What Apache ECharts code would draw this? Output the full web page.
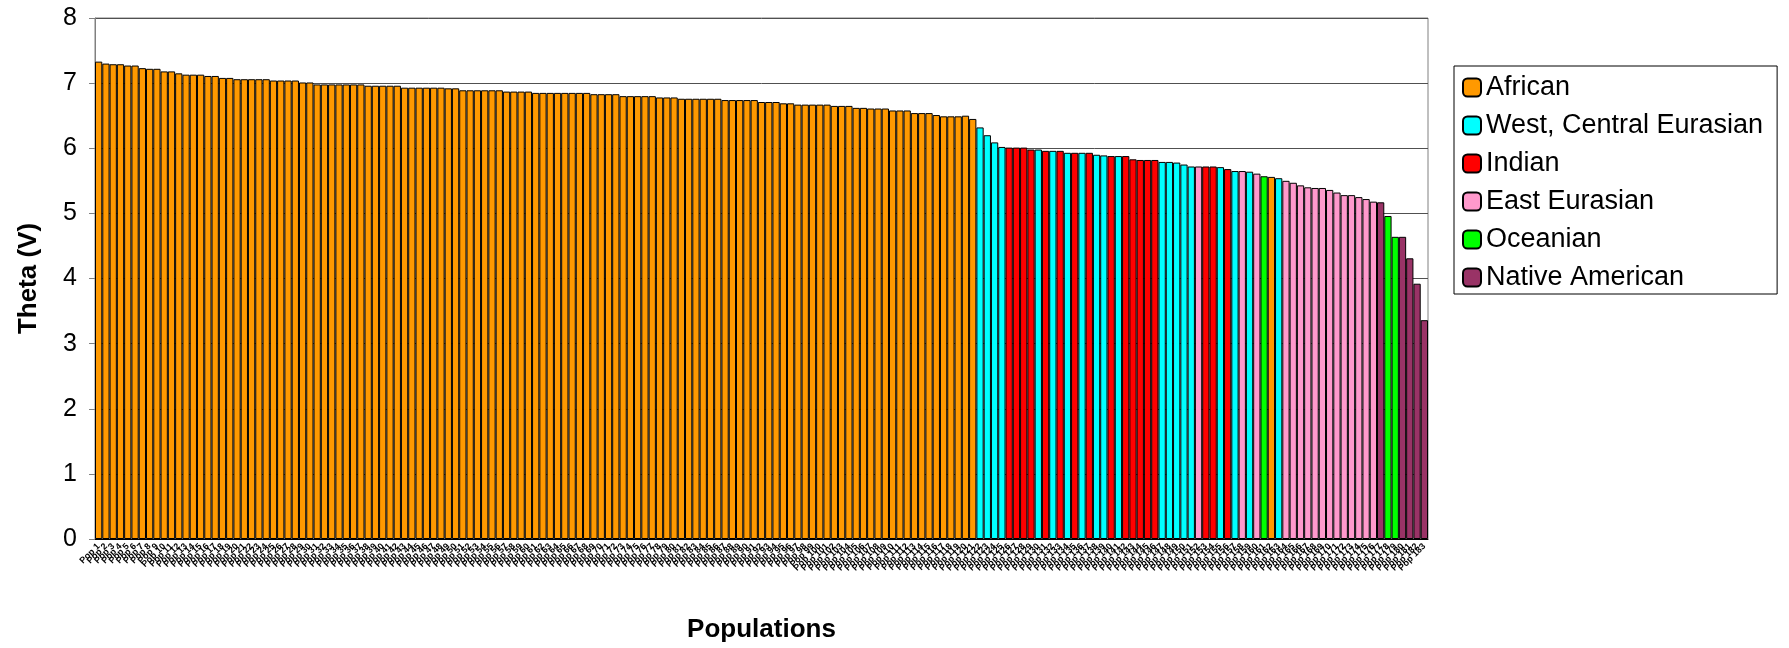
<!DOCTYPE html>
<html>
<head>
<meta charset="utf-8">
<script src="https://cdn.jsdelivr.net/npm/echarts@6/dist/echarts.min.js"></script>
<style>
  html, body { margin: 0; padding: 0; background: #fff; }
  #chart { width: 1789px; height: 648px; }
</style>
</head>
<body>
<div id="chart"></div>
<script>
// theta value per population, left to right
var theta = [
  7.33, 7.30, 7.29, 7.29, 7.27, 7.27, 7.23, 7.22, 7.22, 7.18, 7.18, 7.15, 7.13, 7.13, 7.13, 7.11, 7.11, 7.08, 7.08, 7.06,
  7.06, 7.06, 7.06, 7.06, 7.04, 7.04, 7.04, 7.04, 7.01, 7.01, 6.98, 6.98, 6.98, 6.98, 6.98, 6.98, 6.98, 6.96, 6.96, 6.96,
  6.96, 6.96, 6.93, 6.93, 6.93, 6.93, 6.93, 6.93, 6.92, 6.92, 6.89, 6.89, 6.89, 6.89, 6.89, 6.89, 6.87, 6.87, 6.87, 6.87,
  6.85, 6.85, 6.85, 6.85, 6.85, 6.85, 6.85, 6.85, 6.83, 6.83, 6.83, 6.83, 6.80, 6.80, 6.80, 6.80, 6.80, 6.78, 6.78, 6.78,
  6.76, 6.76, 6.76, 6.76, 6.76, 6.76, 6.74, 6.74, 6.74, 6.74, 6.74, 6.71, 6.71, 6.71, 6.69, 6.69, 6.67, 6.67, 6.67, 6.67,
  6.67, 6.65, 6.65, 6.65, 6.62, 6.62, 6.61, 6.61, 6.61, 6.58, 6.58, 6.58, 6.54, 6.54, 6.54, 6.51, 6.49, 6.49, 6.49, 6.50,
  6.45, 6.32, 6.20, 6.09, 6.02, 6.01, 6.01, 6.01, 5.98, 5.98, 5.96, 5.96, 5.96, 5.93, 5.93, 5.93, 5.93, 5.90, 5.89, 5.88,
  5.88, 5.88, 5.83, 5.82, 5.82, 5.82, 5.79, 5.79, 5.78, 5.75, 5.72, 5.72, 5.72, 5.72, 5.71, 5.68, 5.65, 5.65, 5.64, 5.61,
  5.57, 5.56, 5.54, 5.50, 5.47, 5.43, 5.40, 5.39, 5.39, 5.36, 5.32, 5.28, 5.28, 5.25, 5.22, 5.18, 5.17, 4.96, 4.64, 4.64,
  4.31, 3.92, 3.36
];

// region of each population (A African, W West/Central Eurasian, I Indian, E East Eurasian, O Oceanian, N Native American)
var region = [
  'A','A','A','A','A','A','A','A','A','A','A','A','A','A','A','A','A','A','A','A',
  'A','A','A','A','A','A','A','A','A','A','A','A','A','A','A','A','A','A','A','A',
  'A','A','A','A','A','A','A','A','A','A','A','A','A','A','A','A','A','A','A','A',
  'A','A','A','A','A','A','A','A','A','A','A','A','A','A','A','A','A','A','A','A',
  'A','A','A','A','A','A','A','A','A','A','A','A','A','A','A','A','A','A','A','A',
  'A','A','A','A','A','A','A','A','A','A','A','A','A','A','A','A','A','A','A','A',
  'A','W','W','W','W','I','I','I','I','W','I','W','I','W','I','W','I','W','W','I',
  'W','I','I','I','I','I','W','W','W','W','W','E','I','I','W','I','W','E','W','E',
  'O','A','W','E','E','E','E','E','E','E','E','E','E','E','E','E','N','O','O','N',
  'N','N','N'
];

var regionCodes = ['A', 'W', 'I', 'E', 'O', 'N'];
var regionNames = ['African', 'West, Central Eurasian', 'Indian', 'East Eurasian', 'Oceanian', 'Native American'];
var regionColors = ['#FF9900', '#00FFFF', '#FF0000', '#FF99CC', '#00FF00', '#993366'];

// population labels are not legible in the source, numbered instead
var populations = [];
for (var i = 0; i < theta.length; i++) {
  populations.push('Pop ' + (i + 1));
}

var font = '"Liberation Sans", Arial, sans-serif';

var series = regionCodes.map(function (code, k) {
  return {
    name: regionNames[k],
    type: 'bar',
    stack: 'theta',
    barCategoryGap: 0,
    itemStyle: {
      color: regionColors[k],
      borderColor: '#000',
      borderWidth: 1
    },
    data: theta.map(function (v, i) {
      return region[i] === code ? v : '-';
    })
  };
});

var chart = echarts.init(document.getElementById('chart'));
chart.setOption({
  animation: false,
  backgroundColor: '#fff',
  textStyle: { fontFamily: font },
  grid: {
    left: 95,
    right: 361,
    top: 18,
    bottom: 103,
    show: true,
    borderColor: '#808080',
    borderWidth: 1
  },
  legend: {
    orient: 'vertical',
    left: 1454,
    top: 66,
    padding: [8, 14, 3, 8],
    itemGap: 11,
    itemWidth: 18,
    itemHeight: 18,
    borderColor: '#000',
    borderWidth: 1,
    textStyle: { fontSize: 27, color: '#000', fontFamily: font },
    data: regionNames
  },
  xAxis: {
    type: 'category',
    data: populations,
    name: 'Populations',
    nameLocation: 'middle',
    nameGap: 78,
    nameTextStyle: { fontSize: 26, fontWeight: 'bold', color: '#000' },
    axisLine: { lineStyle: { color: '#000', width: 1 } },
    axisTick: { interval: 0, length: 5, lineStyle: { color: '#000' } },
    axisLabel: {
      interval: 0,
      rotate: 45,
      fontSize: 9,
      fontWeight: 'bold',
      color: '#000',
      margin: 6
    }
  },
  yAxis: {
    type: 'value',
    min: 0,
    max: 8,
    interval: 1,
    name: 'Theta (V)',
    nameLocation: 'middle',
    nameGap: 53,
    nameTextStyle: { fontSize: 26, fontWeight: 'bold', color: '#000' },
    axisLine: { show: true, lineStyle: { color: '#808080' } },
    axisTick: { show: true, length: 6, lineStyle: { color: '#808080' } },
    axisLabel: { fontSize: 25, color: '#000', margin: 18 },
    splitLine: { lineStyle: { color: '#505050', width: 1 } }
  },
  series: series
});
</script>
</body>
</html>
